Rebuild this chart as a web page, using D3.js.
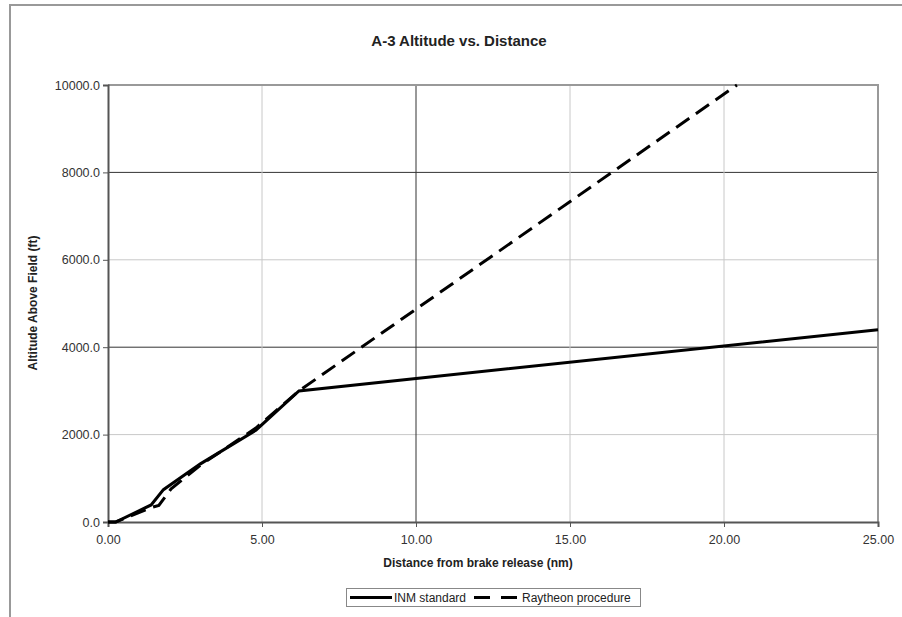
<!DOCTYPE html>
<html><head><meta charset="utf-8">
<script src="https://cdn.jsdelivr.net/npm/d3@7"></script>
<style>body{margin:0;background:#fff}svg{display:block;font-family:"Liberation Sans",Arial,sans-serif}</style>
</head><body>
<svg id="c" width="902" height="617"></svg>
<script>
const title = "A-3 Altitude vs. Distance";
const xTitle = "Distance from brake release (nm)";
const yTitle = "Altitude Above Field (ft)";
const xTicks = [0, 5, 10, 15, 20, 25];
const yTicks = [0, 2000, 4000, 6000, 8000, 10000];
const majorX = [10];
const majorY = [4000, 8000];
const inmX = [0, 0.25, 1.4, 1.8, 3.0, 4.8, 6.2, 25];
const inmY = [0, 0, 390, 740, 1330, 2100, 3000, 4400];
const rayX = [0, 0.25, 1.4, 1.65, 2.05, 3.0, 4.8, 6.2, 20.42];
const rayY = [0, 0, 330, 380, 760, 1300, 2150, 3000, 10000];
const seriesNames = ["INM standard", "Raytheon procedure"];

const svg = d3.select("#c");
const L = 108, R = 878, T = 85, B = 522;
const x = d3.scaleLinear().domain([0, 25]).range([L, R]);
const y = d3.scaleLinear().domain([0, 10000]).range([B, T]);

// outer chart border
svg.append("path").attr("d", `M10,${617} L10,5 L902,5`).attr("fill", "none").attr("stroke", "#999").attr("stroke-width", 2);

// gridlines
yTicks.filter(v => v > 0 && v < 10000).forEach(v => {
  const maj = majorY.includes(v);
  svg.append("line").attr("x1", L).attr("x2", R).attr("y1", y(v)).attr("y2", y(v))
    .attr("stroke", maj ? "#333" : "#c8c8c8").attr("stroke-width", 1);
});
xTicks.filter(v => v > 0 && v < 25).forEach(v => {
  const maj = majorX.includes(v);
  svg.append("line").attr("y1", T).attr("y2", B).attr("x1", x(v)).attr("x2", x(v))
    .attr("stroke", maj ? "#333" : "#c8c8c8").attr("stroke-width", 1);
});
// plot border top/right
svg.append("path").attr("d", `M${L},${T} L${R},${T} L${R},${B}`).attr("fill", "none").attr("stroke", "#999").attr("stroke-width", 2);

// axes
const yAxis = d3.axisLeft(y).tickValues(yTicks).tickFormat(d3.format(".1f")).tickSizeOuter(0).tickSize(5).tickPadding(3);
const xAxis = d3.axisBottom(x).tickValues(xTicks).tickFormat(d3.format(".2f")).tickSizeOuter(0).tickSize(5).tickPadding(8);
const ya = svg.append("g").attr("transform", `translate(${L},0)`).call(yAxis);
const xa = svg.append("g").attr("transform", `translate(0,${B})`).call(xAxis);
[ya, xa].forEach(g => {
  g.select(".domain").attr("stroke", "#555").attr("stroke-width", 2);
  g.selectAll(".tick line").attr("stroke", "#555").attr("stroke-width", 1);
  g.selectAll("text").attr("font-size", 12.5).attr("fill", "#333").attr("font-family", "Liberation Sans, Arial, sans-serif");
});

// series
svg.append("clipPath").attr("id", "pc").append("rect").attr("x", L).attr("y", T - 2).attr("width", R - L + 2).attr("height", B - T + 4);
const line = d3.line().x(d => x(d[0])).y(d => y(d[1]));
const inm = inmX.map((v, i) => [v, inmY[i]]);
const ray = rayX.map((v, i) => [v, rayY[i]]);
svg.append("path").datum(ray).attr("d", line).attr("fill", "none").attr("stroke", "#000").attr("stroke-width", 3).attr("stroke-dasharray", "16,8").attr("clip-path", "url(#pc)");
svg.append("path").datum(inm).attr("d", line).attr("fill", "none").attr("stroke", "#000").attr("stroke-width", 3).attr("clip-path", "url(#pc)");

// titles
svg.append("text").attr("x", 459).attr("y", 46).attr("text-anchor", "middle").attr("font-size", 15).attr("font-weight", "bold").attr("fill", "#222").text(title);
svg.append("text").attr("x", 478).attr("y", 567).attr("text-anchor", "middle").attr("font-size", 12).attr("font-weight", "bold").attr("fill", "#222").text(xTitle);
svg.append("text").attr("transform", "translate(37,303) rotate(-90)").attr("text-anchor", "middle").attr("font-size", 12).attr("font-weight", "bold").attr("fill", "#222").text(yTitle);

// legend
const lg = svg.append("g");
lg.append("rect").attr("x", 346.5).attr("y", 588.5).attr("width", 294).attr("height", 18).attr("fill", "#fff").attr("stroke", "#888").attr("stroke-width", 1);
lg.append("line").attr("x1", 350).attr("x2", 392).attr("y1", 597.5).attr("y2", 597.5).attr("stroke", "#000").attr("stroke-width", 3);
lg.append("text").attr("x", 394).attr("y", 602).attr("font-size", 12).attr("fill", "#222").text(seriesNames[0]);
lg.append("line").attr("x1", 474).attr("x2", 519).attr("y1", 597.5).attr("y2", 597.5).attr("stroke", "#000").attr("stroke-width", 3).attr("stroke-dasharray", "16,11");
lg.append("text").attr("x", 522).attr("y", 602).attr("font-size", 12).attr("fill", "#222").text(seriesNames[1]);
</script>
</body></html>
